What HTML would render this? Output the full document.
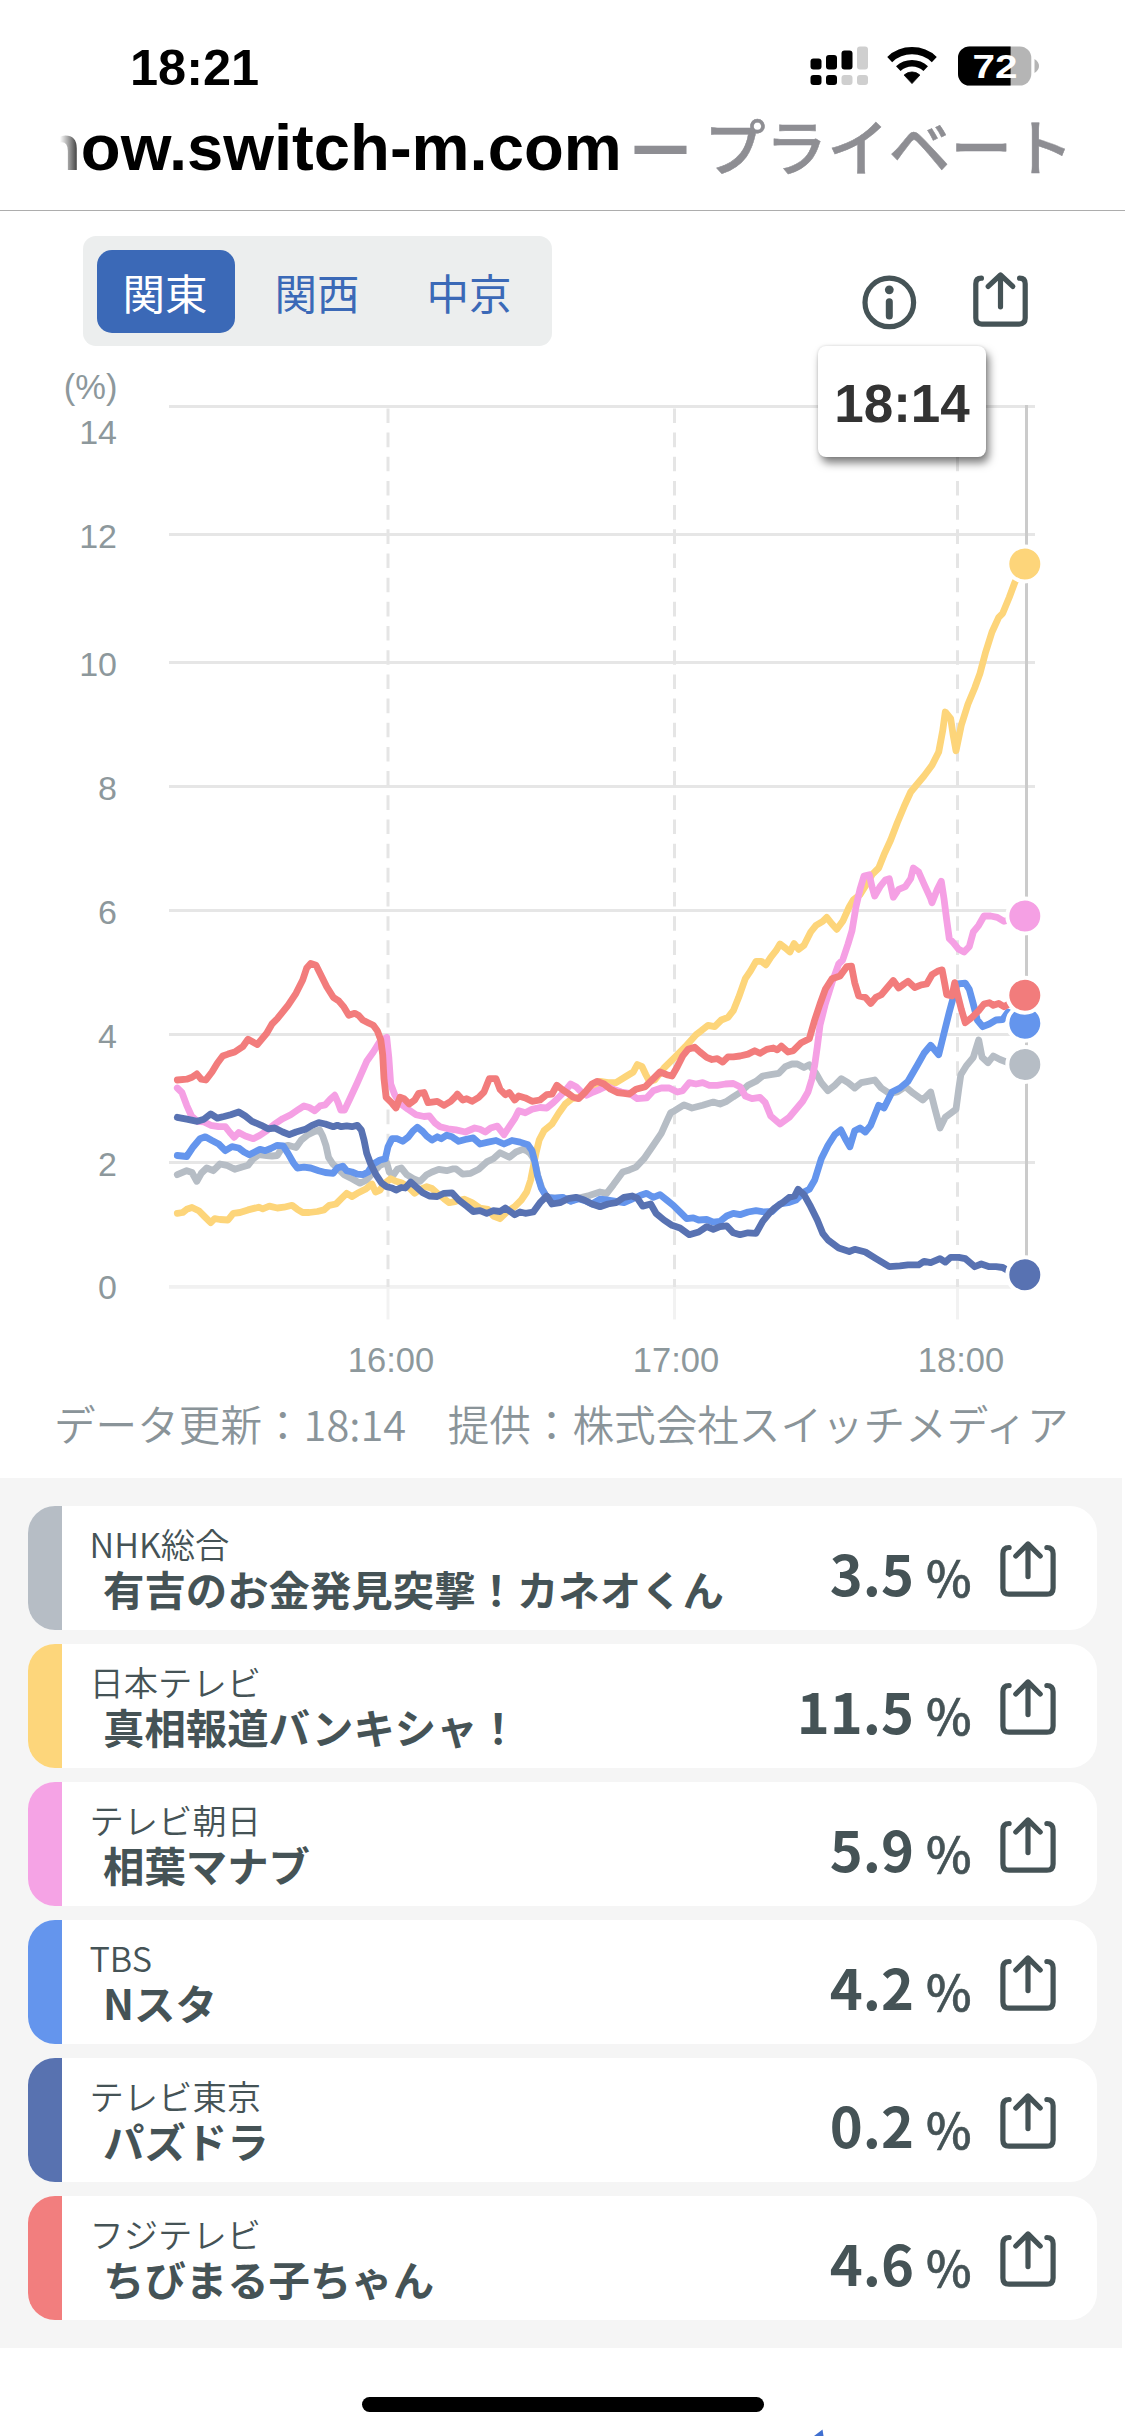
<!DOCTYPE html>
<html lang="ja">
<head>
<meta charset="utf-8">
<title>switch-m</title>
<style>
html,body{margin:0;padding:0;}
body{width:1125px;height:2436px;position:relative;background:#fff;overflow:hidden;font-family:"Liberation Sans","Noto Sans CJK JP",sans-serif;}
.abs{position:absolute;}
.time{position:absolute;left:130px;top:39px;font-size:50.5px;font-weight:700;color:#000;line-height:58px;letter-spacing:0px;}
.url{position:absolute;left:41px;top:106px;font-size:65.2px;font-weight:700;line-height:84px;color:#000;white-space:nowrap;}
.dash{position:absolute;left:634.5px;top:100.5px;font-size:52px;font-weight:700;line-height:84px;color:#8e8e93;transform:scaleY(1.6);}
.priv{position:absolute;left:704px;top:103px;font-size:61.6px;line-height:84px;color:#8e8e93;white-space:nowrap;font-weight:500;-webkit-text-stroke:0.5px #8e8e93;font-family:"Noto Sans CJK JP","Liberation Sans",sans-serif;}
.fade{position:absolute;left:0;top:110px;width:92px;height:80px;background:linear-gradient(90deg,#fff 0,#fff 60px,rgba(255,255,255,0) 83px);}
.hr{position:absolute;left:0;top:209.6px;width:1125px;height:1.4px;background:#adadad;}
.tabs{position:absolute;left:83px;top:236px;width:469px;height:110px;border-radius:13px;background:#eceeee;}
.tab{position:absolute;top:14px;height:83px;width:138px;border-radius:15px;font-size:42.5px;line-height:84px;text-align:center;color:#3b69b7;font-family:"Noto Sans CJK JP","Liberation Sans",sans-serif;}
.tab.on{background:#3b69b7;color:#fff;}
.chart{position:absolute;left:0;top:360px;}
.yl{position:absolute;left:0;width:117px;text-align:right;font-size:34px;line-height:40px;color:#8d989c;}
.xl{position:absolute;top:1340px;width:120px;text-align:center;font-size:34.5px;line-height:40px;color:#8d989c;}
.tip{position:absolute;left:818px;top:346px;width:168px;height:111px;border-radius:8px;background:#fff;box-shadow:3px 6px 9px rgba(0,0,0,.5),0 0 3px rgba(0,0,0,.15);font-size:53px;font-weight:700;color:#333;text-align:center;line-height:116px;}
.cap{position:absolute;left:54px;top:1393px;font-size:41.6px;line-height:60px;font-weight:350;color:#8a9499;white-space:nowrap;font-family:"Noto Sans CJK JP","Liberation Sans",sans-serif;}
.list{position:absolute;left:0;top:1478px;width:1122px;height:870px;background:#f5f5f5;}
.card{position:absolute;left:28px;width:1069px;height:124px;border-radius:27px;background:#fff;overflow:hidden;font-family:"Noto Sans CJK JP","Liberation Sans",sans-serif;color:#455356;}
.card i{position:absolute;left:0;top:0;width:34px;height:124px;}
.card .st{position:absolute;left:61.5px;top:11.8px;font-size:34.3px;line-height:50px;font-weight:350;white-space:nowrap;}
.card .ti{position:absolute;left:75px;top:51.5px;font-size:41.4px;line-height:60px;font-weight:700;white-space:nowrap;}
.card .num{position:absolute;right:183px;top:24px;font-size:56px;line-height:84px;font-weight:700;white-space:nowrap;}
.card .pc{position:absolute;left:898px;top:33.5px;font-size:48.5px;line-height:72px;font-weight:500;-webkit-text-stroke:0.6px #455356;}
.card .share{position:absolute;left:972px;top:35px;}
.home{position:absolute;left:362px;top:2397px;width:402px;height:15px;border-radius:8px;background:#000;}
</style>
</head>
<body>
<div class="time">18:21</div>
<svg class="abs" style="left:800px;top:40px" width="260" height="56" viewBox="800 40 260 56">
 <g fill="#000">
  <rect x="810.5" y="58.5" width="11" height="11" rx="3"/>
  <rect x="826" y="55" width="11" height="14.5" rx="3"/>
  <rect x="841.5" y="50.5" width="11" height="19" rx="3"/>
  <rect x="810.5" y="75" width="11" height="10" rx="3"/>
  <rect x="826" y="75" width="11" height="10" rx="3"/>
 </g>
 <g fill="#cfcfcf">
  <rect x="857" y="46.5" width="11" height="23" rx="3"/>
  <rect x="841.5" y="75" width="11" height="10" rx="3"/>
  <rect x="857" y="75" width="11" height="10" rx="3"/>
 </g>
 <g fill="none" stroke="#000">
  <path d="M889.7 59.54 A32.6 32.6 0 0 1 934.3 59.54" stroke-width="7.2"/>
  <path d="M898.28 68.68 A20.05 20.05 0 0 1 925.72 68.68" stroke-width="6.6"/>
 </g>
 <path d="M912 83.6 L904.1 75.1 A11.4 11.4 0 0 1 919.9 75.1 Z" fill="#000" stroke="#000" stroke-width="0.8" stroke-linejoin="round"/>
 <rect x="958" y="46.5" width="73.3" height="39" rx="11.5" fill="#b5b5b5"/>
 <path d="M969.5 46.5 H1010.6 V85.5 H969.5 A11.5 11.5 0 0 1 958 74 V58 A11.5 11.5 0 0 1 969.5 46.5Z" fill="#000"/>
 <path d="M1034.5 59 Q1039 62 1039 66 Q1039 70 1034.5 73 Z" fill="#b5b5b5"/>
 <text x="972.5" y="78" font-family="Liberation Sans, sans-serif" font-weight="700" font-size="33.5" fill="#fff" textLength="45" lengthAdjust="spacingAndGlyphs">72</text>
</svg>
<div class="url">now.switch-m.com</div>
<div class="dash">—</div><div class="priv">プライベート</div>
<div class="fade"></div>
<div class="hr"></div>

<div class="tabs"><div class="tab on" style="left:14px"><span style="position:relative;left:-1px">関東</span></div><div class="tab" style="left:165px">関西</div><div class="tab" style="left:317px">中京</div></div>
<svg class="abs" style="left:856px;top:266px" width="180" height="66" viewBox="856 266 180 66">
 <circle cx="889.3" cy="302.4" r="24.3" fill="none" stroke="#455356" stroke-width="5.2"/>
 <circle cx="889.3" cy="289.8" r="4.4" fill="#455356"/>
 <path d="M889.3 301.8 V316" stroke="#455356" stroke-width="7" stroke-linecap="round"/>
 <path d="M981.4 278.2 Q975.8 278.2 975.8 283.8 V318.1 Q975.8 324.1 981.8 324.1 H1019.2 Q1025.2 324.1 1025.2 318.1 V283.8 Q1025.2 278.2 1019.6 278.2" fill="none" stroke="#455356" stroke-width="5.2" stroke-linecap="round"/><path d="M1000.5 306.8 V275.2 M988.2 286.4 L1000.5 274.9 L1012.8 286.4" fill="none" stroke="#455356" stroke-width="5.2" stroke-linecap="round" stroke-linejoin="round"/>
</svg>

<div class="yl" style="top:367px;font-size:34.5px;width:117.5px">(%)</div>
<div class="yl" style="top:1267.0px">0</div>
<div class="yl" style="top:1143.5px">2</div>
<div class="yl" style="top:1015.5px">4</div>
<div class="yl" style="top:891.5px">6</div>
<div class="yl" style="top:767.5px">8</div>
<div class="yl" style="top:643.5px">10</div>
<div class="yl" style="top:515.5px">12</div>
<div class="yl" style="top:412px">14</div>
<svg class="chart" width="1125" height="1000" viewBox="0 360 1125 1000">
<line x1="169" x2="1035" y1="1286.9" y2="1286.9" stroke="#f1f1f1" stroke-width="3.8"/>
<line x1="169" x2="1035" y1="1162.5" y2="1162.5" stroke="#e6e6e6" stroke-width="3.0"/>
<line x1="169" x2="1035" y1="1034.5" y2="1034.5" stroke="#e6e6e6" stroke-width="3.0"/>
<line x1="169" x2="1035" y1="910.5" y2="910.5" stroke="#e6e6e6" stroke-width="3.0"/>
<line x1="169" x2="1035" y1="786.5" y2="786.5" stroke="#e6e6e6" stroke-width="3.0"/>
<line x1="169" x2="1035" y1="662.5" y2="662.5" stroke="#e6e6e6" stroke-width="3.0"/>
<line x1="169" x2="1035" y1="534.5" y2="534.5" stroke="#e6e6e6" stroke-width="3.0"/>
<line x1="169" x2="1035" y1="406.5" y2="406.5" stroke="#e6e6e6" stroke-width="3.0"/>
<line x1="388.0" x2="388.0" y1="408.4" y2="1287" stroke="#e5e5e5" stroke-width="3" stroke-dasharray="14.6 9.58"/>
<line x1="388.0" x2="388.0" y1="1288" y2="1319.5" stroke="#f2f2f2" stroke-width="3"/>
<line x1="674.5" x2="674.5" y1="408.4" y2="1287" stroke="#e5e5e5" stroke-width="3" stroke-dasharray="14.6 9.58"/>
<line x1="674.5" x2="674.5" y1="1288" y2="1319.5" stroke="#f2f2f2" stroke-width="3"/>
<line x1="957.5" x2="957.5" y1="408.4" y2="1287" stroke="#e5e5e5" stroke-width="3" stroke-dasharray="14.6 9.58"/>
<line x1="957.5" x2="957.5" y1="1288" y2="1319.5" stroke="#f2f2f2" stroke-width="3"/>
<line x1="1026.5" x2="1026.5" y1="405" y2="1288" stroke="#cbcbcb" stroke-width="3"/>
<path d="M177.3 1174.7 L186.7 1170.7 L192.0 1172.5 L196.8 1181.3 L201.3 1173.3 L206.7 1168.0 L213.3 1170.7 L220.0 1164.0 L226.7 1165.3 L234.7 1169.3 L241.3 1167.2 L248.0 1165.3 L253.3 1158.7 L258.7 1154.7 L266.7 1155.5 L272.0 1156.0 L277.3 1155.5 L282.7 1146.7 L288.0 1145.3 L296.0 1147.5 L301.3 1140.0 L308.0 1134.7 L314.7 1131.5 L319.5 1129.9 L322.7 1136.0 L325.9 1145.3 L328.5 1157.3 L332.8 1164.0 L337.3 1168.0 L344.0 1174.7 L352.0 1178.7 L360.0 1183.2 L366.7 1180.0 L373.3 1172.0 L380.0 1165.3 L386.7 1162.7 L389.3 1172.0 L393.3 1175.2 L397.3 1169.3 L401.3 1168.0 L406.7 1174.7 L413.3 1178.7 L420.0 1181.3 L426.7 1174.7 L432.0 1172.0 L438.7 1169.3 L446.7 1170.7 L453.3 1168.8 L456.0 1168.8 L462.7 1174.1 L470.7 1173.3 L478.7 1169.3 L486.7 1161.9 L493.3 1158.7 L500.0 1152.8 L509.3 1157.3 L516.0 1152.0 L522.7 1149.3 L526.7 1150.7 L530.1 1153.3 L532.8 1157.3 L535.2 1163.5 L537.9 1176.0 L541.9 1188.5 L547.2 1197.6 L555.2 1198.1 L562.7 1197.6 L570.7 1201.1 L578.7 1198.1 L589.3 1195.5 L600.0 1192.0 L606.7 1193.3 L613.3 1184.8 L622.7 1172.0 L629.3 1169.9 L636.0 1167.2 L644.0 1158.7 L653.3 1145.3 L661.3 1133.3 L666.7 1121.3 L670.7 1112.8 L674.7 1110.7 L684.0 1104.8 L692.0 1108.0 L702.7 1105.3 L713.3 1102.1 L720.0 1104.0 L726.7 1101.3 L733.3 1096.8 L740.0 1092.5 L748.0 1085.3 L756.0 1081.3 L762.7 1076.0 L770.7 1074.7 L778.7 1073.3 L785.3 1066.7 L792.0 1064.0 L797.3 1064.0 L804.0 1067.5 L809.3 1064.8 L816.0 1073.3 L821.3 1082.7 L828.0 1090.7 L834.7 1085.3 L841.3 1078.7 L848.0 1082.7 L854.7 1088.0 L861.3 1082.7 L868.0 1081.3 L874.7 1080.0 L881.3 1088.0 L889.3 1093.3 L897.3 1092.0 L905.3 1086.7 L913.3 1093.3 L922.7 1100.0 L930.7 1092.0 L934.7 1108.0 L940.0 1128.0 L945.3 1117.3 L950.7 1113.3 L956.0 1109.3 L958.7 1089.3 L960.8 1074.7 L966.7 1065.3 L973.3 1057.3 L978.7 1040.0 L982.1 1057.3 L988.0 1062.7 L993.3 1056.0 L1000.0 1059.5 L1008.0 1062.7 L1024.8 1064.5" fill="none" stroke="#b6bdc5" stroke-width="6.8" stroke-linejoin="round" stroke-linecap="round"/>
<path d="M177.3 1213.3 L182.7 1212.5 L186.7 1209.3 L192.0 1207.5 L198.7 1210.7 L204.0 1216.0 L210.7 1222.7 L214.7 1218.7 L220.0 1219.5 L228.0 1220.0 L233.3 1213.3 L240.0 1212.5 L248.0 1209.9 L258.7 1207.2 L262.7 1208.8 L269.3 1206.1 L277.3 1208.0 L284.0 1207.2 L292.0 1205.3 L297.3 1209.3 L302.7 1212.5 L309.3 1212.5 L317.3 1211.5 L324.0 1209.9 L329.3 1205.3 L336.0 1204.0 L341.3 1198.7 L346.7 1193.3 L352.0 1196.5 L357.3 1193.3 L365.3 1189.3 L372.0 1184.0 L375.5 1192.0 L380.0 1190.1 L384.0 1184.0 L390.7 1178.7 L396.0 1181.3 L401.3 1182.7 L408.0 1186.7 L414.7 1193.3 L420.0 1189.3 L426.7 1186.7 L432.0 1188.5 L437.3 1193.3 L444.0 1198.7 L449.3 1202.7 L456.0 1201.3 L464.0 1199.2 L472.0 1202.7 L480.0 1208.0 L488.0 1209.3 L493.3 1216.0 L500.0 1218.7 L506.7 1212.0 L514.7 1206.7 L521.3 1200.0 L526.7 1192.0 L530.7 1180.0 L533.3 1166.7 L536.0 1153.3 L539.2 1140.0 L544.0 1130.7 L552.0 1124.0 L558.7 1113.3 L565.3 1104.0 L572.0 1098.7 L578.7 1097.3 L586.7 1092.0 L593.3 1090.7 L600.0 1081.3 L608.0 1082.7 L616.0 1082.7 L626.7 1076.0 L633.3 1072.0 L637.3 1064.5 L642.1 1066.7 L645.9 1074.7 L649.3 1081.3 L654.7 1080.0 L664.0 1068.0 L674.7 1057.3 L685.3 1046.7 L696.0 1034.7 L701.3 1030.7 L708.0 1025.3 L714.7 1026.7 L721.3 1020.0 L728.0 1017.3 L733.3 1010.7 L738.7 997.3 L745.3 978.7 L750.7 970.7 L756.0 961.3 L761.3 961.3 L765.9 964.8 L770.7 957.3 L776.0 950.7 L780.0 944.0 L785.3 948.0 L789.9 952.0 L794.1 943.5 L798.7 949.3 L804.0 945.3 L810.7 932.0 L816.0 925.3 L822.7 921.3 L826.7 917.3 L832.0 924.0 L836.8 929.3 L842.7 921.3 L849.3 906.7 L853.3 900.0 L860.0 894.7 L866.7 884.0 L872.0 874.7 L878.7 868.0 L884.0 854.7 L890.7 840.0 L897.3 822.7 L904.0 806.7 L910.7 792.0 L917.3 784.0 L924.0 776.0 L932.0 765.3 L938.7 752.0 L942.7 730.7 L945.3 712.0 L950.7 718.7 L953.3 736.0 L956.0 750.7 L961.3 725.3 L968.0 704.0 L974.7 688.0 L980.0 673.3 L985.3 653.3 L992.0 632.0 L998.7 617.3 L1002.7 613.3 L1009.3 597.3 L1014.7 582.7 L1024.8 564.0" fill="none" stroke="#fdd57a" stroke-width="6.8" stroke-linejoin="round" stroke-linecap="round"/>
<path d="M177.3 1088.0 L181.9 1092.5 L186.7 1105.3 L191.5 1116.0 L197.3 1121.3 L204.0 1121.9 L210.7 1125.3 L218.7 1126.7 L225.3 1126.7 L229.9 1132.5 L234.1 1137.3 L238.7 1132.5 L245.3 1136.0 L253.3 1138.7 L260.0 1135.2 L266.7 1130.7 L274.7 1124.0 L282.7 1118.7 L290.7 1114.7 L298.7 1109.3 L304.0 1105.9 L309.3 1107.5 L314.7 1110.7 L320.0 1105.9 L325.3 1104.8 L330.7 1098.7 L334.7 1095.2 L338.1 1102.7 L340.8 1110.1 L344.5 1110.1 L349.3 1100.0 L357.3 1082.7 L366.7 1061.3 L373.3 1052.0 L380.0 1041.3 L386.7 1037.3 L388.8 1057.3 L390.7 1084.0 L394.7 1094.7 L400.0 1103.2 L408.0 1109.3 L416.0 1114.7 L424.0 1116.5 L429.3 1116.0 L434.7 1122.7 L440.0 1126.7 L448.0 1128.8 L456.0 1129.9 L465.3 1132.0 L474.7 1128.0 L480.0 1129.3 L485.3 1132.0 L490.7 1128.0 L497.3 1126.1 L504.0 1134.7 L509.3 1126.7 L514.7 1118.7 L518.7 1110.7 L525.3 1112.8 L532.0 1109.3 L540.0 1107.5 L546.7 1108.0 L553.3 1102.7 L558.7 1097.3 L565.3 1090.7 L570.7 1084.0 L576.0 1086.7 L581.3 1092.0 L586.7 1095.2 L593.3 1092.0 L600.0 1089.3 L606.7 1086.1 L613.3 1089.3 L621.3 1092.0 L629.3 1093.3 L637.3 1098.7 L646.7 1097.9 L653.3 1090.7 L661.3 1088.0 L669.3 1088.0 L677.3 1092.0 L682.7 1090.7 L689.3 1082.7 L696.0 1084.0 L702.7 1082.7 L709.3 1085.3 L717.3 1085.3 L725.3 1084.0 L733.3 1083.5 L740.0 1086.7 L745.3 1096.0 L752.0 1098.7 L760.0 1097.3 L765.3 1102.7 L770.7 1116.0 L780.0 1124.0 L789.3 1117.3 L796.0 1109.3 L802.7 1101.3 L808.0 1092.0 L812.0 1078.7 L814.7 1065.3 L817.3 1046.7 L820.0 1025.3 L825.3 1004.0 L832.0 982.7 L838.7 964.0 L842.7 960.0 L848.0 944.0 L852.0 930.7 L856.0 906.7 L860.0 889.3 L864.0 876.0 L869.3 874.7 L872.0 886.7 L874.7 896.0 L880.0 886.7 L885.3 880.0 L889.3 878.7 L893.3 897.3 L898.7 889.3 L905.3 886.7 L910.7 878.7 L913.3 868.0 L918.7 872.0 L924.0 884.0 L930.7 898.7 L932.0 902.7 L937.3 889.3 L941.3 881.3 L944.0 898.7 L946.7 920.0 L949.3 938.7 L953.3 942.7 L958.7 949.3 L964.0 952.0 L969.3 946.7 L973.3 932.0 L978.7 925.3 L984.0 916.0 L990.7 916.0 L997.3 917.3 L1004.0 921.3 L1024.8 916.0" fill="none" stroke="#f5a0e4" stroke-width="6.8" stroke-linejoin="round" stroke-linecap="round"/>
<path d="M177.3 1155.5 L186.7 1156.5 L193.3 1146.7 L200.0 1138.7 L205.3 1136.8 L212.0 1140.5 L218.7 1144.0 L225.3 1150.7 L232.0 1146.7 L238.7 1148.0 L244.0 1152.0 L249.3 1154.7 L254.7 1152.0 L260.0 1149.3 L265.3 1150.7 L270.7 1148.5 L277.3 1145.3 L283.2 1145.9 L288.0 1153.3 L293.3 1162.7 L297.3 1168.0 L304.0 1167.2 L310.7 1168.0 L318.7 1170.7 L325.3 1172.5 L333.3 1173.3 L337.3 1168.0 L342.7 1166.1 L346.7 1170.7 L352.0 1172.0 L357.3 1174.1 L362.7 1174.7 L368.0 1172.0 L373.3 1164.0 L380.0 1160.0 L385.3 1158.7 L388.0 1146.7 L392.0 1138.7 L397.3 1138.7 L402.7 1141.3 L408.0 1137.3 L413.3 1130.7 L417.3 1127.2 L422.7 1131.5 L426.7 1136.0 L432.0 1140.0 L437.3 1136.8 L441.3 1138.7 L446.7 1135.2 L452.0 1136.8 L454.7 1138.7 L458.7 1141.3 L465.3 1139.5 L473.3 1137.9 L480.0 1144.0 L488.0 1142.1 L496.0 1140.5 L504.0 1144.0 L512.0 1140.5 L520.0 1142.1 L528.0 1144.8 L532.0 1150.7 L534.7 1161.3 L537.3 1174.7 L541.3 1188.0 L546.7 1197.3 L554.7 1198.1 L562.7 1197.3 L570.7 1201.3 L578.7 1198.7 L585.3 1200.8 L592.0 1204.0 L600.0 1199.2 L608.0 1200.0 L616.0 1201.3 L624.0 1202.7 L632.0 1199.2 L640.0 1195.5 L646.7 1193.3 L653.3 1197.3 L660.0 1194.7 L666.7 1200.0 L673.3 1205.3 L680.0 1212.0 L686.7 1218.7 L693.3 1217.9 L698.7 1220.0 L706.7 1219.5 L713.3 1222.1 L720.0 1221.3 L726.7 1216.0 L733.3 1213.3 L740.0 1214.7 L748.0 1212.0 L756.0 1210.7 L764.0 1212.0 L772.0 1211.5 L780.0 1204.0 L788.0 1202.7 L796.0 1200.0 L804.0 1192.0 L809.3 1189.3 L814.7 1180.0 L821.3 1158.7 L828.0 1145.3 L834.7 1134.7 L840.8 1129.9 L845.3 1138.7 L849.9 1146.7 L854.7 1130.7 L860.0 1128.0 L865.3 1132.0 L870.7 1125.3 L878.7 1105.3 L884.0 1108.0 L892.0 1092.0 L900.0 1088.0 L908.0 1081.3 L917.3 1065.3 L924.0 1053.3 L930.7 1045.3 L938.7 1054.7 L944.0 1033.3 L949.3 1012.0 L953.3 997.3 L957.3 984.0 L965.3 983.2 L969.3 989.3 L973.3 1004.0 L977.3 1020.0 L982.7 1026.7 L989.3 1024.0 L996.0 1020.0 L1002.7 1019.5 L1008.0 1012.0 L1024.8 1023.2" fill="none" stroke="#6495ed" stroke-width="6.8" stroke-linejoin="round" stroke-linecap="round"/>
<path d="M177.3 1117.3 L186.7 1119.2 L197.3 1121.3 L204.0 1119.2 L210.7 1113.9 L217.3 1118.1 L224.0 1116.5 L230.7 1114.7 L238.7 1112.0 L245.3 1116.0 L252.0 1121.3 L261.3 1125.3 L268.0 1128.8 L274.7 1128.0 L282.7 1132.0 L289.3 1134.7 L296.0 1132.0 L305.3 1129.3 L312.0 1125.3 L318.7 1122.7 L325.3 1124.0 L333.3 1126.7 L337.3 1125.3 L341.3 1126.7 L346.7 1125.9 L352.0 1126.7 L357.3 1125.3 L361.3 1129.9 L364.0 1140.0 L366.7 1153.3 L370.7 1164.0 L376.0 1174.7 L381.3 1182.7 L386.7 1186.7 L392.0 1188.0 L396.0 1190.1 L401.3 1187.5 L405.3 1188.0 L410.7 1182.1 L416.0 1186.7 L422.7 1192.8 L429.3 1196.0 L437.3 1196.5 L444.0 1193.3 L452.0 1192.8 L458.7 1200.0 L466.7 1206.1 L473.3 1211.5 L480.0 1210.7 L486.7 1213.3 L493.3 1210.7 L500.0 1211.5 L505.3 1208.0 L514.7 1214.7 L520.0 1212.0 L525.3 1213.3 L533.3 1212.0 L540.0 1202.7 L546.7 1196.0 L552.0 1204.0 L560.0 1202.7 L568.0 1198.7 L576.0 1197.3 L584.0 1200.0 L592.0 1204.0 L600.0 1206.7 L608.0 1204.0 L616.0 1202.7 L624.0 1197.3 L632.0 1196.0 L637.3 1198.1 L642.7 1206.1 L650.7 1204.0 L656.0 1213.3 L664.0 1220.0 L672.0 1225.3 L680.0 1228.0 L689.3 1234.7 L698.7 1232.0 L706.7 1226.7 L713.3 1229.3 L720.0 1226.7 L726.7 1225.9 L733.3 1232.8 L740.0 1234.7 L748.0 1232.8 L756.0 1233.3 L762.7 1221.3 L769.3 1213.3 L774.7 1208.0 L782.7 1202.7 L789.3 1197.3 L794.7 1196.0 L798.1 1189.3 L804.0 1194.7 L810.7 1206.7 L817.3 1220.0 L822.7 1233.3 L828.0 1240.0 L838.7 1248.0 L849.3 1251.5 L854.7 1249.3 L865.3 1252.0 L876.0 1258.7 L889.3 1266.7 L900.0 1265.9 L908.0 1264.8 L918.7 1264.8 L924.0 1261.3 L930.7 1262.7 L940.0 1258.7 L945.3 1262.1 L950.7 1257.3 L958.7 1257.3 L965.3 1258.7 L974.7 1266.7 L981.3 1264.0 L989.3 1266.7 L996.0 1266.7 L1002.7 1267.5 L1008.0 1270.7 L1024.8 1274.7" fill="none" stroke="#5872b2" stroke-width="6.8" stroke-linejoin="round" stroke-linecap="round"/>
<path d="M177.3 1080.0 L186.7 1079.2 L192.0 1077.3 L196.8 1073.9 L201.3 1079.2 L205.9 1080.0 L212.0 1072.0 L217.3 1063.2 L222.7 1056.0 L228.0 1054.1 L234.7 1052.0 L242.7 1046.7 L248.0 1039.2 L257.3 1044.5 L266.7 1033.3 L272.0 1024.0 L277.3 1018.7 L288.0 1005.3 L296.0 993.3 L302.7 980.0 L306.7 968.0 L310.7 963.5 L316.0 965.3 L320.0 973.3 L326.7 986.7 L333.3 997.3 L338.7 1000.8 L344.0 1007.2 L348.8 1015.2 L354.7 1013.3 L358.7 1015.5 L362.7 1020.0 L368.0 1022.7 L373.3 1025.3 L377.3 1030.7 L380.8 1040.0 L382.7 1054.7 L384.0 1078.7 L386.1 1097.3 L392.0 1103.2 L396.0 1108.0 L400.0 1097.3 L404.0 1098.7 L409.3 1104.0 L414.7 1100.0 L418.7 1093.3 L424.0 1092.5 L428.0 1102.7 L432.0 1102.1 L437.3 1101.3 L444.0 1105.3 L450.7 1101.3 L456.0 1096.0 L457.3 1094.1 L462.7 1100.0 L466.7 1098.7 L472.0 1101.3 L478.7 1097.3 L484.0 1092.0 L489.3 1078.7 L496.0 1078.7 L500.0 1089.3 L505.3 1094.7 L509.3 1092.5 L514.7 1100.0 L518.7 1096.0 L525.3 1097.9 L532.0 1101.3 L540.0 1100.0 L546.7 1094.7 L552.0 1094.1 L556.8 1085.3 L562.7 1089.9 L568.0 1093.3 L573.3 1097.3 L578.7 1098.7 L585.3 1092.0 L592.0 1084.0 L597.3 1081.3 L604.0 1084.0 L610.7 1089.3 L617.3 1092.5 L624.0 1093.3 L629.3 1094.1 L636.0 1089.3 L645.3 1086.7 L652.0 1080.0 L660.0 1072.0 L666.7 1074.7 L672.0 1076.0 L677.3 1066.7 L682.7 1056.0 L688.0 1049.3 L694.7 1047.2 L700.0 1052.0 L706.7 1057.3 L712.0 1059.5 L717.3 1058.7 L722.7 1062.1 L728.0 1056.8 L733.3 1056.8 L740.0 1056.0 L748.0 1054.1 L754.7 1050.7 L760.0 1053.3 L766.7 1049.3 L773.3 1048.0 L777.3 1049.9 L781.3 1046.1 L788.0 1052.0 L793.3 1050.7 L801.3 1042.7 L809.3 1038.7 L814.7 1020.0 L820.0 1004.0 L825.3 989.3 L832.0 978.7 L840.0 976.0 L846.7 966.7 L851.5 966.1 L854.7 982.7 L858.7 996.0 L865.3 997.3 L870.7 1003.5 L876.0 997.3 L881.3 994.7 L888.0 986.7 L893.3 980.5 L898.7 988.0 L904.0 984.0 L908.0 981.3 L914.7 987.5 L921.3 984.8 L926.7 984.0 L932.0 974.7 L938.7 970.7 L942.1 969.9 L944.8 984.0 L946.7 994.7 L952.0 996.0 L954.7 982.7 L957.3 993.3 L961.3 1009.3 L965.3 1022.7 L972.0 1017.3 L978.7 1010.7 L984.0 1004.0 L989.3 1002.7 L993.3 1005.3 L998.7 1003.5 L1004.0 1006.7 L1024.8 995.2" fill="none" stroke="#f27c7c" stroke-width="6.8" stroke-linejoin="round" stroke-linecap="round"/>
<circle cx="1024.8" cy="1064.5" r="17.5" fill="#b6bdc5" stroke="#fff" stroke-width="4"/>
<circle cx="1024.8" cy="564.0" r="17.5" fill="#fdd57a" stroke="#fff" stroke-width="4"/>
<circle cx="1024.8" cy="916.0" r="17.5" fill="#f5a0e4" stroke="#fff" stroke-width="4"/>
<circle cx="1024.8" cy="1023.2" r="17.5" fill="#6495ed" stroke="#fff" stroke-width="4"/>
<circle cx="1024.8" cy="1274.7" r="17.5" fill="#5872b2" stroke="#fff" stroke-width="4"/>
<circle cx="1024.8" cy="995.2" r="17.5" fill="#f27c7c" stroke="#fff" stroke-width="4"/>
</svg>
<div class="xl" style="left:331px">16:00</div>
<div class="xl" style="left:616px">17:00</div>
<div class="xl" style="left:901px">18:00</div>
<div class="tip">18:14</div>
<div class="cap">データ更新：18:14　提供：株式会社スイッチメディア</div>

<div class="list">
</div>
<div class="card" style="top:1506px"><i style="background:#b6bdc5"></i><span class="st">NHK総合</span><span class="ti">有吉のお金発見突撃！カネオくん</span><span class="num">3.5</span><span class="pc">%</span><svg class="share" viewBox="0 0 56 56" width="56" height="56"><path d="M9.1 6.5 Q2.9 6.5 2.9 12.7 V46.9 Q2.9 53.1 9.1 53.1 H46.9 Q53.1 53.1 53.1 46.9 V12.7 Q53.1 6.5 46.9 6.5" fill="none" stroke="#455356" stroke-width="5.2" stroke-linecap="round"/><path d="M28 35.6 V3.2 M15.8 15 L28 2.9 L40.2 15" fill="none" stroke="#455356" stroke-width="5.2" stroke-linecap="round" stroke-linejoin="round"/></svg></div>
<div class="card" style="top:1644px"><i style="background:#fdd67b"></i><span class="st">日本テレビ</span><span class="ti">真相報道バンキシャ！</span><span class="num">11.5</span><span class="pc">%</span><svg class="share" viewBox="0 0 56 56" width="56" height="56"><path d="M9.1 6.5 Q2.9 6.5 2.9 12.7 V46.9 Q2.9 53.1 9.1 53.1 H46.9 Q53.1 53.1 53.1 46.9 V12.7 Q53.1 6.5 46.9 6.5" fill="none" stroke="#455356" stroke-width="5.2" stroke-linecap="round"/><path d="M28 35.6 V3.2 M15.8 15 L28 2.9 L40.2 15" fill="none" stroke="#455356" stroke-width="5.2" stroke-linecap="round" stroke-linejoin="round"/></svg></div>
<div class="card" style="top:1782px"><i style="background:#f5a3e5"></i><span class="st">テレビ朝日</span><span class="ti">相葉マナブ</span><span class="num">5.9</span><span class="pc">%</span><svg class="share" viewBox="0 0 56 56" width="56" height="56"><path d="M9.1 6.5 Q2.9 6.5 2.9 12.7 V46.9 Q2.9 53.1 9.1 53.1 H46.9 Q53.1 53.1 53.1 46.9 V12.7 Q53.1 6.5 46.9 6.5" fill="none" stroke="#455356" stroke-width="5.2" stroke-linecap="round"/><path d="M28 35.6 V3.2 M15.8 15 L28 2.9 L40.2 15" fill="none" stroke="#455356" stroke-width="5.2" stroke-linecap="round" stroke-linejoin="round"/></svg></div>
<div class="card" style="top:1920px"><i style="background:#6495ed"></i><span class="st">TBS</span><span class="ti">Nスタ</span><span class="num">4.2</span><span class="pc">%</span><svg class="share" viewBox="0 0 56 56" width="56" height="56"><path d="M9.1 6.5 Q2.9 6.5 2.9 12.7 V46.9 Q2.9 53.1 9.1 53.1 H46.9 Q53.1 53.1 53.1 46.9 V12.7 Q53.1 6.5 46.9 6.5" fill="none" stroke="#455356" stroke-width="5.2" stroke-linecap="round"/><path d="M28 35.6 V3.2 M15.8 15 L28 2.9 L40.2 15" fill="none" stroke="#455356" stroke-width="5.2" stroke-linecap="round" stroke-linejoin="round"/></svg></div>
<div class="card" style="top:2058px"><i style="background:#5872b0"></i><span class="st">テレビ東京</span><span class="ti">パズドラ</span><span class="num">0.2</span><span class="pc">%</span><svg class="share" viewBox="0 0 56 56" width="56" height="56"><path d="M9.1 6.5 Q2.9 6.5 2.9 12.7 V46.9 Q2.9 53.1 9.1 53.1 H46.9 Q53.1 53.1 53.1 46.9 V12.7 Q53.1 6.5 46.9 6.5" fill="none" stroke="#455356" stroke-width="5.2" stroke-linecap="round"/><path d="M28 35.6 V3.2 M15.8 15 L28 2.9 L40.2 15" fill="none" stroke="#455356" stroke-width="5.2" stroke-linecap="round" stroke-linejoin="round"/></svg></div>
<div class="card" style="top:2196px"><i style="background:#f27e7e"></i><span class="st">フジテレビ</span><span class="ti">ちびまる子ちゃん</span><span class="num">4.6</span><span class="pc">%</span><svg class="share" viewBox="0 0 56 56" width="56" height="56"><path d="M9.1 6.5 Q2.9 6.5 2.9 12.7 V46.9 Q2.9 53.1 9.1 53.1 H46.9 Q53.1 53.1 53.1 46.9 V12.7 Q53.1 6.5 46.9 6.5" fill="none" stroke="#455356" stroke-width="5.2" stroke-linecap="round"/><path d="M28 35.6 V3.2 M15.8 15 L28 2.9 L40.2 15" fill="none" stroke="#455356" stroke-width="5.2" stroke-linecap="round" stroke-linejoin="round"/></svg></div>
<div class="home"></div>
<svg class="abs" style="left:812px;top:2428px" width="14" height="8" viewBox="0 0 14 8"><path d="M2 8 L10.5 1.5 L11.5 8Z" fill="#3f6fd0"/></svg>
</body>
</html>
